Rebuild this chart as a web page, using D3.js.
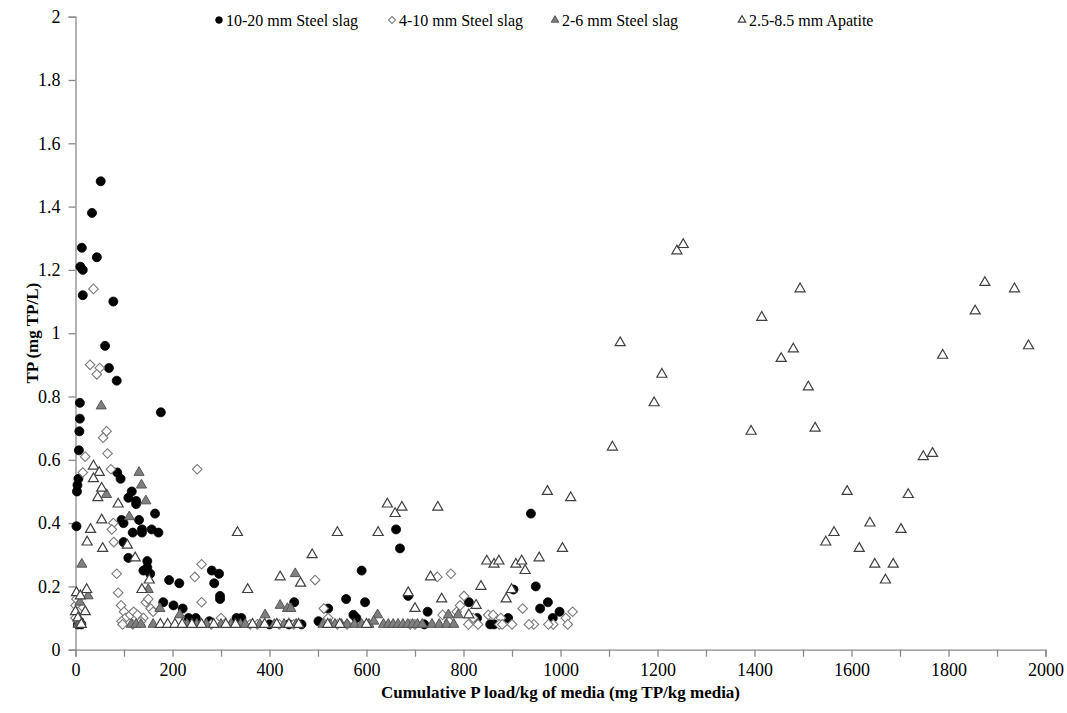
<!DOCTYPE html>
<html>
<head>
<meta charset="utf-8">
<script src="https://cdn.jsdelivr.net/npm/d3@7"></script>
<style>
  html, body { margin: 0; padding: 0; background: #fff; }
  svg { display: block; }
  text { font-family: "Liberation Serif", "Times New Roman", serif; fill: #000; }
</style>
</head>
<body>
<svg id="chart" width="1067" height="713"></svg>
<script>
// Cumulative P load (mg TP/kg media) vs outlet TP (mg TP/L), one array per media.
const slag10to20 = [
  [52,1.48],[34,1.38],[44,1.24],[13,1.27],[10,1.21],[15,1.20],[15,1.12],[78,1.10],
  [61,0.96],[69,0.89],[85,0.85],[9,0.78],[176,0.75],[9,0.73],[8,0.69],[7,0.63],
  [6,0.54],[4,0.52],[3,0.50],[86,0.56],[93,0.54],[116,0.50],[109,0.48],[125,0.47],
  [125,0.46],[164,0.43],[95,0.41],[131,0.41],[2,0.39],[99,0.40],[118,0.37],[137,0.38],
  [137,0.37],[157,0.38],[171,0.37],[99,0.34],[109,0.29],[148,0.28],[148,0.26],[140,0.25],
  [154,0.24],[193,0.22],[214,0.21],[181,0.15],[202,0.14],[221,0.13],[233,0.10],[248,0.10],
  [276,0.09],[281,0.25],[296,0.24],[286,0.21],[298,0.17],[298,0.16],[332,0.10],[342,0.10],
  [451,0.15],[466,0.08],[501,0.09],[521,0.13],[558,0.16],[573,0.11],[579,0.10],[590,0.25],
  [597,0.15],[661,0.38],[669,0.32],[686,0.17],[719,0.08],[726,0.12],[811,0.15],[828,0.10],
  [855,0.08],[863,0.08],[892,0.10],[903,0.19],[939,0.43],[949,0.20],[958,0.13],[974,0.15],
  [984,0.10],[998,0.12],[5,0.08],[8,0.09],[12,0.08],[400,0.08],[440,0.08]
];

const slag4to10 = [
  [37,1.14],[30,0.90],[50,0.89],[44,0.87],[64,0.69],[57,0.67],[66,0.62],[20,0.61],
  [15,0.56],[73,0.57],[251,0.57],[78,0.40],[75,0.38],[79,0.34],[85,0.24],[88,0.18],
  [94,0.14],[0,0.14],[2,0.16],[0,0.10],[5,0.12],[100,0.12],[103,0.10],[95,0.09],
  [97,0.08],[113,0.11],[120,0.12],[128,0.11],[140,0.10],[145,0.15],[150,0.16],[155,0.13],
  [160,0.12],[118,0.08],[135,0.09],[260,0.27],[246,0.23],[260,0.15],[300,0.10],[280,0.08],
  [360,0.08],[375,0.08],[420,0.08],[450,0.08],[494,0.22],[512,0.13],[521,0.10],[540,0.08],
  [560,0.08],[746,0.23],[774,0.24],[801,0.17],[793,0.14],[786,0.12],[757,0.11],[851,0.11],
  [861,0.11],[877,0.10],[874,0.08],[922,0.13],[1025,0.12],[1011,0.10],[1015,0.08],[985,0.08],
  [975,0.08],[945,0.08],[935,0.08],[900,0.08],[880,0.08],[830,0.08],[820,0.10],[810,0.08],
  [770,0.09],[690,0.08],[700,0.08]
];

const slag2to6 = [
  [53,0.77],[64,0.49],[131,0.56],[136,0.52],[145,0.47],[111,0.42],[13,0.27],[150,0.19],
  [26,0.17],[9,0.15],[174,0.13],[215,0.11],[5,0.08],[8,0.08],[10,0.09],[115,0.08],
  [125,0.08],[135,0.08],[160,0.08],[453,0.24],[422,0.14],[437,0.13],[444,0.13],[391,0.11],
  [623,0.11],[230,0.08],[250,0.08],[270,0.08],[300,0.08],[320,0.08],[340,0.08],[350,0.08],
  [380,0.08],[410,0.08],[430,0.08],[455,0.08],[510,0.08],[525,0.08],[535,0.08],[548,0.08],
  [560,0.08],[575,0.08],[590,0.08],[605,0.08],[615,0.09],[635,0.08],[645,0.08],[655,0.08],
  [665,0.08],[675,0.08],[685,0.08],[695,0.08],[705,0.08],[715,0.08],[769,0.11],[789,0.11],
  [735,0.08],[750,0.08],[765,0.08],[780,0.08]
];

const apatite = [
  [37,0.58],[49,0.56],[37,0.54],[54,0.51],[46,0.48],[88,0.46],[54,0.41],[31,0.38],
  [24,0.34],[56,0.32],[107,0.33],[123,0.29],[152,0.22],[137,0.19],[23,0.19],[2,0.18],
  [20,0.12],[0,0.12],[10,0.17],[5,0.10],[12,0.08],[175,0.08],[190,0.08],[205,0.08],
  [220,0.08],[240,0.08],[260,0.08],[285,0.08],[310,0.08],[330,0.08],[365,0.08],[390,0.08],
  [415,0.08],[440,0.08],[460,0.08],[520,0.08],[545,0.08],[600,0.08],
  [334,0.37],[355,0.19],[422,0.23],[464,0.21],[488,0.30],[540,0.37],[624,0.37],[643,0.46],
  [659,0.43],[673,0.45],[747,0.45],[732,0.23],[700,0.13],[755,0.16],[686,0.18],[836,0.20],
  [826,0.14],[848,0.28],[863,0.27],[873,0.28],[888,0.16],[899,0.19],[908,0.27],[920,0.28],
  [927,0.25],[956,0.29],[973,0.50],[1004,0.32],[1021,0.48],[811,0.11],
  [1107,0.64],[1123,0.97],[1193,0.78],[1209,0.87],[1240,1.26],[1253,1.28],[1393,0.69],
  [1415,1.05],[1455,0.92],[1480,0.95],[1494,1.14],[1511,0.83],[1525,0.70],[1547,0.34],
  [1564,0.37],[1591,0.50],[1616,0.32],[1638,0.40],[1648,0.27],[1670,0.22],[1686,0.27],
  [1702,0.38],[1717,0.49],[1748,0.61],[1767,0.62],[1788,0.93],[1855,1.07],[1875,1.16],
  [1936,1.14],[1965,0.96]
];

const legendLabels = ["10-20 mm Steel slag", "4-10 mm Steel slag", "2-6 mm Steel slag", "2.5-8.5 mm Apatite"];
const xTicks = [0, 200, 400, 600, 800, 1000, 1200, 1400, 1600, 1800, 2000];
const xMinorTicks = [100, 300, 500, 700, 900, 1100, 1300, 1500, 1700, 1900];
const yTicks = [0, 0.2, 0.4, 0.6, 0.8, 1, 1.2, 1.4, 1.6, 1.8, 2];
const xTitle = "Cumulative P load/kg of media (mg TP/kg media)";
const yTitle = "TP (mg TP/L)";

const svg = d3.select("#chart");
const margin = { left: 75.5, right: 1045.5, top: 16.7, bottom: 649.7 };

const x = d3.scaleLinear().domain([0, 2000]).range([margin.left, margin.right]);
const y = d3.scaleLinear().domain([0, 2]).range([margin.bottom, margin.top]);

const axisColor = "#8a8a8a";

// y axis
const yAxis = svg.append("g")
  .attr("transform", `translate(${margin.left},0)`)
  .call(d3.axisLeft(y).tickValues(yTicks).tickSize(7).tickPadding(8)
    .tickFormat(d => d3.format("~g")(d)));
yAxis.select(".domain").attr("stroke", axisColor).attr("stroke-width", 1.3);
yAxis.selectAll(".tick line").attr("stroke", axisColor).attr("stroke-width", 1.3);
yAxis.selectAll(".tick text").attr("font-size", 18).attr("font-family", "Liberation Serif").attr("fill", "#000");

// x axis with labelled and unlabelled tick marks
const xAxisMinor = svg.append("g")
  .attr("transform", `translate(0,${margin.bottom})`)
  .call(d3.axisBottom(x).tickValues(xMinorTicks).tickSize(7).tickFormat(""));
xAxisMinor.select(".domain").remove();
xAxisMinor.selectAll(".tick line").attr("stroke", axisColor).attr("stroke-width", 1.3);

const xAxis = svg.append("g")
  .attr("transform", `translate(0,${margin.bottom})`)
  .call(d3.axisBottom(x).tickValues(xTicks).tickSize(7).tickPadding(7)
    .tickFormat(d3.format("d")));
xAxis.select(".domain").attr("stroke", axisColor).attr("stroke-width", 1.3);
xAxis.selectAll(".tick line").attr("stroke", axisColor).attr("stroke-width", 1.3);
xAxis.selectAll(".tick text").attr("font-size", 18).attr("font-family", "Liberation Serif").attr("fill", "#000");

// axis titles
svg.append("text")
  .attr("x", (margin.left + margin.right) / 2)
  .attr("y", 698)
  .attr("text-anchor", "middle")
  .attr("font-size", 17)
  .attr("font-weight", "bold")
  .text(xTitle);

svg.append("text")
  .attr("transform", `translate(38,${(margin.top + margin.bottom) / 2}) rotate(-90)`)
  .attr("text-anchor", "middle")
  .attr("font-size", 17)
  .attr("font-weight", "bold")
  .text(yTitle);

// marker styles per series
const styles = [
  { data: slag10to20, type: d3.symbolCircle, size: 64, rotate: 0, fill: "#000", stroke: "#000", sw: 0.8 },
  { data: slag4to10, type: d3.symbolSquare, size: 46, rotate: 45, fill: "#fff", stroke: "#7a7a7a", sw: 1.1 },
  { data: slag2to6, type: d3.symbolTriangle, size: 44, rotate: 0, fill: "#7f7f7f", stroke: "#555", sw: 1 },
  { data: apatite, type: d3.symbolTriangle, size: 44, rotate: 0, fill: "#fff", stroke: "#3f3f3f", sw: 1.2 }
];

const plot = svg.append("g");
styles.forEach(s => {
  const sym = d3.symbol().type(s.type).size(s.size);
  plot.append("g").selectAll("path")
    .data(s.data)
    .join("path")
    .attr("d", sym)
    .attr("transform", d => `translate(${x(d[0])},${y(d[1])}) rotate(${s.rotate})`)
    .attr("fill", s.fill)
    .attr("stroke", s.stroke)
    .attr("stroke-width", s.sw);
});

// legend
const legendX = [219, 392, 555, 742];
const legend = svg.append("g");
styles.forEach((s, i) => {
  const g = legend.append("g").attr("transform", `translate(${legendX[i]},20)`);
  g.append("path")
    .attr("d", d3.symbol().type(s.type).size(s.size * 0.55))
    .attr("transform", `rotate(${s.rotate})`)
    .attr("fill", s.fill)
    .attr("stroke", s.stroke)
    .attr("stroke-width", s.sw);
  g.append("text")
    .attr("x", 7)
    .attr("y", 5.5)
    .attr("font-size", 16)
    .text(legendLabels[i]);
});
</script>
</body>
</html>
